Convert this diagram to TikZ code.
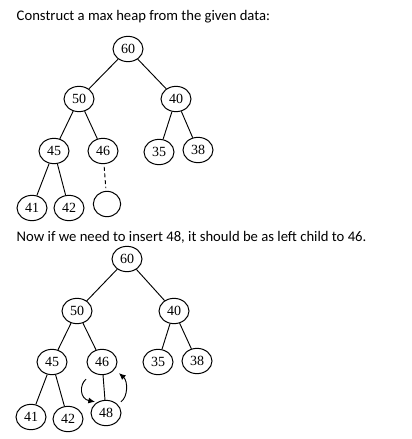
\documentclass[tikz,border=0pt]{standalone}
\usepackage{fontspec}
\setmainfont{Carlito}
\newfontfamily\numfont{Liberation Serif}
\usetikzlibrary{shapes.geometric,arrows.meta}
\tikzset{
    hnode/.style={draw, ellipse, line width=0.75pt, minimum width=22.5pt, minimum height=19pt, inner sep=0pt, font=\numfont\fontsize{10.5}{12}\selectfont},
    hedge/.style={line width=0.7pt},
    swap/.style={line width=0.7pt, -{Latex[length=5pt,width=4.5pt]}}
}
\begin{document}
\begin{tikzpicture}[x=0.75pt,y=-0.75pt]
                \useasboundingbox (0,0) rectangle (411,439);
                \node[anchor=base west,font=\fontsize{11}{13}\selectfont] (title1) at (12,21) {Construct a max heap from the given data:};
                \node[anchor=base west,font=\fontsize{11}{13}\selectfont] (title2) at (12,241) {Now if we need to insert 48, it should be as left child to 46.};
                % first heap
                \foreach \n/\x/\y in {60/128/49, 50/79/99, 40/176/99, 45/54/151, 46/103/151, 35/159/152, 38/198/150, 41/32/208, 42/69/208} {
                        \node[hnode] (a\n) at (\x,\y) {\n};
                    }
                \node[hnode, minimum width=20.5pt] (aE) at (107,204) {};
                \foreach \p/\c in {60/50, 60/40, 50/45, 50/46, 40/35, 40/38, 45/41, 45/42} {
                        \draw[hedge] (a\p) -- (a\c);
                    }
                \draw[hedge, dash pattern=on 3pt off 2pt, shorten <=2pt, shorten >=2pt] (a46) -- (aE);
                % after inserting 48
                \foreach \n/\x/\y in {60/127/259, 50/77/311, 40/174/311, 45/52/362, 46/102/362, 35/158/362, 38/197/361, 41/31/417, 42/68/419, 48/106/413} {
                        \node[hnode] (b\n) at (\x,\y) {\n};
                    }
                \foreach \p/\c in {60/50, 60/40, 50/45, 50/46, 40/35, 40/38, 45/41, 45/42, 46/48} {
                        \draw[hedge] (b\p) -- (b\c);
                    }
                \draw[swap] ([shift={(-16,4)}]b46.south) .. controls +(-7,6) and +(-15,-3) .. ([shift={(-11,2)}]b48.north);
                \draw[swap] ([shift={(15,2)}]b48.north) .. controls +(7,-5) and +(9,8) .. ([shift={(17,-2)}]b46.south);
            \end{tikzpicture}
\end{document}
